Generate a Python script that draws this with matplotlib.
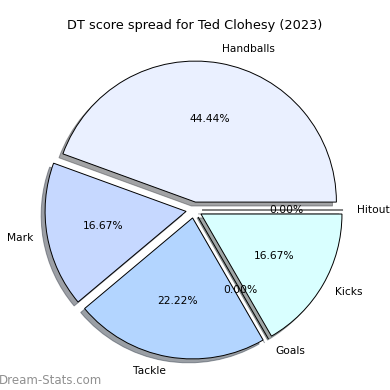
import matplotlib
matplotlib.use("Agg")
import matplotlib.pyplot as plt

# DT points per category
categories = ["Handballs", "Mark", "Tackle", "Goals", "Kicks", "Hitout"]
points = [16, 6, 8, 0, 6, 0]
colors = ["#eaf0ff", "#c6d8ff", "#b3d5ff", "#c0e0ff", "#d9ffff", "#e0f0ff"]

fig = plt.figure(figsize=(3.9, 3.9), dpi=100)
ax = fig.add_axes([0, 0, 1, 1])

ax.pie(points, labels=categories, colors=colors, autopct="%1.2f%%",
       explode=[0.057] * len(points), shadow=True, startangle=0,
       wedgeprops={"edgecolor": "black", "linewidth": 0.7},
       textprops={"fontsize": 7.7})

# place the pie like the reference (radius ~141px, centre ~(194,210))
r = 141.0
cx, cy = 194, 210
ax.set_xlim(-cx / r, (390 - cx) / r)
ax.set_ylim(-(390 - cy) / r, cy / r)
ax.set_aspect("equal")
ax.axis("off")

fig.text(0.5, 1 - 25 / 390, "DT score spread for Ted Clohesy (2023)",
         ha="center", va="center", fontsize=9.3)
fig.text(-0.002, 1 - 380 / 390, "Dream-Stats.com", ha="left", va="center",
         fontsize=8.5, color="#909090")

fig.savefig("out.png", dpi=100)
